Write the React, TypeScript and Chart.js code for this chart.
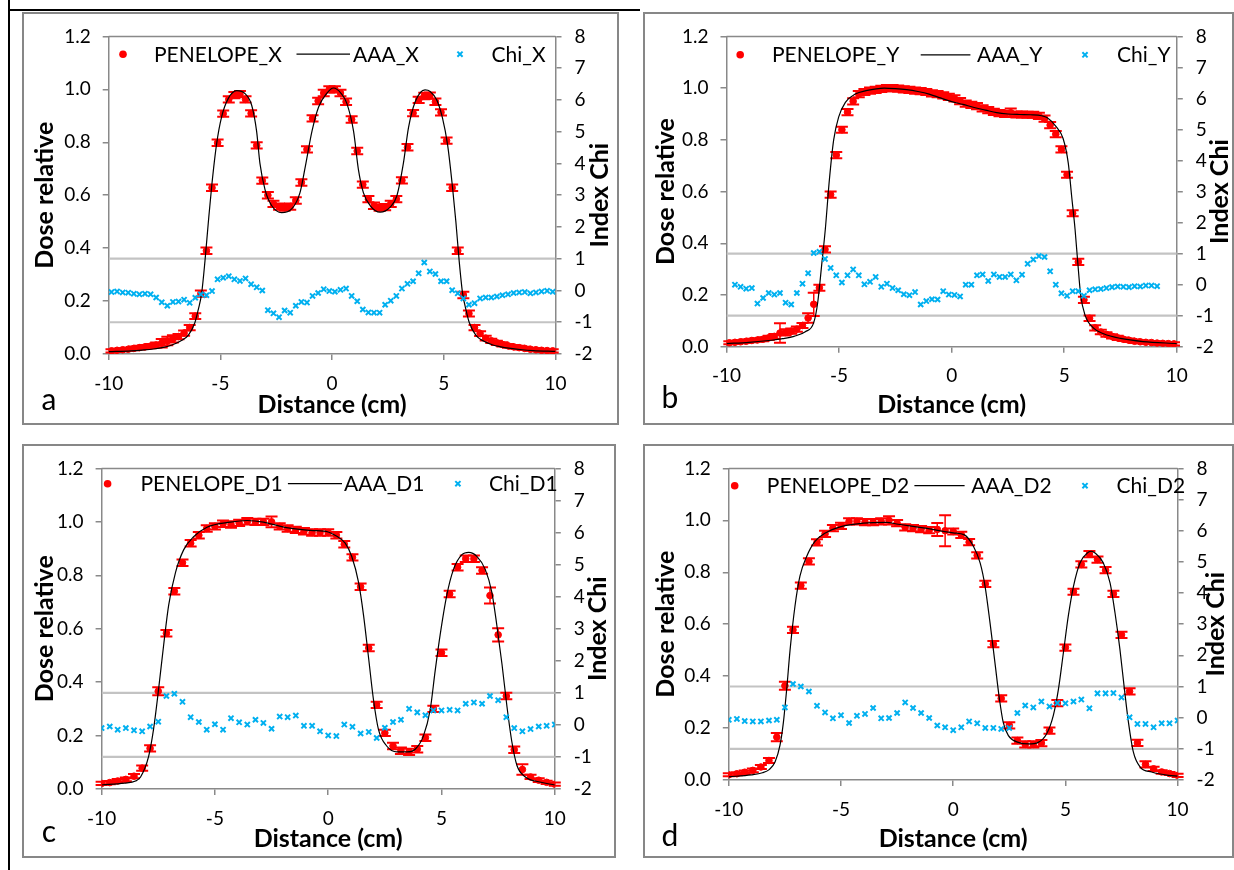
import React, { useEffect, useRef } from 'react';
import { Chart, registerables } from 'chart.js';

Chart.register(...registerables);

const FONT = 'Lato, "Open Sans", "DejaVu Sans", sans-serif';
const RED = '#FF0000';
const BLUE = '#00B0F0';
const AXIS_COLOR = '#898989';
const LIMIT_COLOR = '#C3C3C3';
const FRAME_COLOR = '#878787';

// ---------- axes ----------
const X_MIN = -10, X_MAX = 10, X_STEP = 5;
const DOSE_MIN = 0, DOSE_MAX = 1.2, DOSE_STEP = 0.2;
const CHI_MIN = -2, CHI_MAX = 8, CHI_STEP = 1;
const CHI_LIMITS = [-1, 1];
const LIMIT_X = [-10, 10];

// ---------- shared distance grids (cm) ----------
const DIST_AB = [
  -9.875, -9.625, -9.375, -9.125, -8.875, -8.625, -8.375, -8.125, -7.875, -7.625,
  -7.375, -7.125, -6.875, -6.625, -6.375, -6.125, -5.875, -5.625, -5.375, -5.125,
  -4.875, -4.625, -4.375, -4.125, -3.875, -3.625, -3.375, -3.125, -2.875, -2.625,
  -2.375, -2.125, -1.875, -1.625, -1.375, -1.125, -0.875, -0.625, -0.375, -0.125,
  0.125, 0.375, 0.625, 0.875, 1.125, 1.375, 1.625, 1.875, 2.125, 2.375,
  2.625, 2.875, 3.125, 3.375, 3.625, 3.875, 4.125, 4.375, 4.625, 4.875,
  5.125, 5.375, 5.625, 5.875, 6.125, 6.375, 6.625, 6.875, 7.125, 7.375,
  7.625, 7.875, 8.125, 8.375, 8.625, 8.875, 9.125, 9.375, 9.625, 9.875,
];
const DIST_CD = [
  -10, -9.64, -9.29, -8.93, -8.57, -8.21, -7.86, -7.5, -7.14, -6.79,
  -6.43, -6.07, -5.71, -5.36, -5, -4.64, -4.29, -3.93, -3.57, -3.21,
  -2.86, -2.5, -2.14, -1.79, -1.43, -1.07, -0.71, -0.36, 0, 0.36,
  0.71, 1.07, 1.43, 1.79, 2.14, 2.5, 2.86, 3.21, 3.57, 3.93,
  4.29, 4.64, 5, 5.36, 5.71, 6.07, 6.43, 6.79, 7.14, 7.5,
  7.86, 8.21, 8.57, 8.93, 9.29, 9.64, 10,
];

// ---------- panel a (X) ----------
const PEN_X_DOSE = [
  0.012, 0.014, 0.016, 0.018, 0.021, 0.024, 0.027, 0.030, 0.034, 0.041,
  0.049, 0.057, 0.066, 0.079, 0.100, 0.143, 0.228, 0.390, 0.628, 0.798,
  0.908, 0.962, 0.978, 0.982, 0.962, 0.909, 0.788, 0.655, 0.600, 0.567,
  0.557, 0.553, 0.557, 0.580, 0.648, 0.773, 0.890, 0.956, 0.986, 1.000,
  1.000, 0.986, 0.953, 0.886, 0.767, 0.640, 0.585, 0.560, 0.553, 0.555,
  0.567, 0.585, 0.656, 0.781, 0.910, 0.960, 0.975, 0.976, 0.953, 0.913,
  0.806, 0.628, 0.390, 0.223, 0.153, 0.100, 0.077, 0.060, 0.050, 0.042,
  0.036, 0.031, 0.027, 0.024, 0.021, 0.018, 0.016, 0.014, 0.013, 0.012,
];
const PEN_X_ERR = [
  0.006, 0.006, 0.006, 0.006, 0.007, 0.007, 0.007, 0.008, 0.009, 0.016,
  0.016, 0.014, 0.010, 0.010, 0.010, 0.011, 0.012, 0.012, 0.012, 0.012,
  0.012, 0.012, 0.012, 0.012, 0.012, 0.012, 0.012, 0.012, 0.012, 0.012,
  0.012, 0.012, 0.012, 0.012, 0.012, 0.012, 0.012, 0.012, 0.012, 0.012,
  0.012, 0.012, 0.012, 0.012, 0.012, 0.012, 0.012, 0.012, 0.012, 0.012,
  0.012, 0.012, 0.012, 0.012, 0.012, 0.012, 0.012, 0.012, 0.012, 0.012,
  0.012, 0.012, 0.012, 0.012, 0.011, 0.010, 0.009, 0.009, 0.008, 0.008,
  0.008, 0.007, 0.007, 0.007, 0.006, 0.006, 0.006, 0.006, 0.006, 0.006,
];
const AAA_X_DIST = [
  -10, -9, -8.5, -8, -7.5, -7.2, -6.8, -6.44, -6.14, -5.99,
  -5.84, -5.69, -5.54, -5.39, -5.17, -4.94, -4.65, -4.27, -3.9, -3.6,
  -3.38, -3.23, -3.0, -2.7, -2.26, -1.81, -1.44, -1.2, -0.9, -0.6,
  -0.23, 0.06, 0.4, 0.66, 0.96, 1.18, 1.4, 1.7, 2.15, 2.6,
  2.9, 3.19, 3.42, 3.72, 4.16, 4.39, 4.69, 4.94, 5.17, 5.39,
  5.54, 5.69, 5.84, 5.99, 6.14, 6.44, 6.8, 7.2, 7.5, 8,
  8.5, 9, 10,
];
const AAA_X_DOSE = [
  0.009, 0.012, 0.015, 0.019, 0.026, 0.033, 0.048, 0.070, 0.119, 0.168,
  0.229, 0.352, 0.498, 0.634, 0.794, 0.898, 0.965, 0.995, 0.984, 0.940,
  0.842, 0.720, 0.620, 0.560, 0.534, 0.548, 0.609, 0.708, 0.842, 0.934,
  0.986, 1.005, 0.985, 0.947, 0.842, 0.696, 0.610, 0.561, 0.536, 0.555,
  0.598, 0.720, 0.855, 0.953, 0.998, 0.992, 0.959, 0.892, 0.790, 0.630,
  0.500, 0.350, 0.230, 0.168, 0.119, 0.070, 0.048, 0.034, 0.028, 0.021,
  0.016, 0.013, 0.010,
];
const CHI_X = [
  -0.05, -0.03, -0.06, -0.07, -0.10, -0.12, -0.10, -0.12, -0.22, -0.37,
  -0.48, -0.36, -0.35, -0.29, -0.39, -0.23, -0.12, -0.15, -0.02, 0.35,
  0.40, 0.45, 0.35, 0.30, 0.38, 0.20, 0.10, 0.00, -0.62, -0.72,
  -0.84, -0.63, -0.70, -0.48, -0.36, -0.38, -0.17, -0.08, 0.04, -0.02,
  -0.04, 0.02, 0.06, -0.17, -0.34, -0.60, -0.69, -0.70, -0.70, -0.45,
  -0.32, -0.17, 0.06, 0.21, 0.29, 0.54, 0.88, 0.60, 0.52, 0.29,
  0.29, 0.01, -0.09, -0.25, -0.45, -0.40, -0.25, -0.22, -0.22, -0.19,
  -0.15, -0.12, -0.08, -0.06, -0.05, -0.09, -0.06, -0.03, -0.01, -0.04,
];

// ---------- panel b (Y) ----------
const PEN_Y_DOSE = [
  0.015, 0.017, 0.019, 0.021, 0.024, 0.026, 0.029, 0.034, 0.040, 0.053,
  0.055, 0.060, 0.068, 0.082, 0.111, 0.164, 0.228, 0.376, 0.588, 0.741,
  0.839, 0.907, 0.949, 0.977, 0.985, 0.990, 0.993, 0.997, 1.000, 1.000,
  0.998, 0.995, 0.993, 0.990, 0.988, 0.985, 0.980, 0.977, 0.972, 0.966,
  0.960, 0.950, 0.940, 0.935, 0.930, 0.922, 0.915, 0.908, 0.903, 0.900,
  0.905, 0.898, 0.898, 0.897, 0.897, 0.893, 0.882, 0.857, 0.822, 0.763,
  0.665, 0.516, 0.328, 0.181, 0.110, 0.073, 0.057, 0.047, 0.040, 0.034,
  0.029, 0.025, 0.021, 0.019, 0.017, 0.016, 0.014, 0.013, 0.012, 0.011,
];
const PEN_Y_ERR = [
  0.006, 0.006, 0.006, 0.007, 0.007, 0.007, 0.008, 0.008, 0.009, 0.038,
  0.012, 0.010, 0.010, 0.010, 0.018, 0.045, 0.012, 0.012, 0.012, 0.012,
  0.012, 0.012, 0.012, 0.012, 0.012, 0.012, 0.012, 0.012, 0.012, 0.012,
  0.012, 0.012, 0.012, 0.012, 0.012, 0.012, 0.012, 0.012, 0.012, 0.012,
  0.012, 0.012, 0.012, 0.012, 0.012, 0.012, 0.012, 0.012, 0.012, 0.012,
  0.016, 0.012, 0.012, 0.012, 0.012, 0.012, 0.012, 0.012, 0.012, 0.012,
  0.012, 0.012, 0.012, 0.012, 0.011, 0.010, 0.009, 0.009, 0.008, 0.008,
  0.007, 0.007, 0.007, 0.006, 0.006, 0.006, 0.006, 0.006, 0.006, 0.006,
];
const AAA_Y_DIST = [
  -10, -9, -8, -7.5, -7, -6.5, -6.13, -5.95, -5.76, -5.61,
  -5.43, -5.24, -5.02, -4.72, -4.28, -3.8, -3, -2.5, -2, -1.5,
  -1, -0.5, 0, 0.5, 1, 1.5, 2, 2.5, 3, 3.5,
  4, 4.25, 4.65, 4.95, 5.18, 5.33, 5.48, 5.6, 5.73, 5.92,
  6.29, 6.75, 7.5, 8.5, 10,
];
const AAA_Y_DOSE = [
  0.012, 0.017, 0.025, 0.031, 0.040, 0.058, 0.092, 0.170, 0.327, 0.455,
  0.646, 0.800, 0.888, 0.945, 0.977, 0.990, 1.000, 0.998, 0.994, 0.987,
  0.977, 0.962, 0.948, 0.937, 0.925, 0.915, 0.905, 0.900, 0.898, 0.897,
  0.893, 0.885, 0.850, 0.805, 0.710, 0.582, 0.455, 0.327, 0.200, 0.123,
  0.073, 0.050, 0.032, 0.020, 0.012,
];
const CHI_Y = [
  null, 0.00, -0.07, -0.13, -0.11, -0.61, -0.43, -0.27, -0.32, -0.27,
  -0.58, -0.64, -0.27, 0.03, 0.37, 1.02, 1.06, 0.83, 0.54, 0.30,
  0.07, 0.30, 0.49, 0.30, 0.01, 0.09, 0.25, -0.07, 0.03, -0.11,
  -0.18, -0.31, -0.34, -0.24, -0.64, -0.53, -0.47, -0.48, -0.21, -0.32,
  -0.33, -0.38, 0.00, 0.00, 0.30, 0.33, 0.12, 0.33, 0.25, 0.25,
  0.33, 0.14, 0.32, 0.67, 0.81, 0.92, 0.89, 0.43, 0.00, -0.28,
  -0.36, -0.21, -0.21, -0.36, -0.18, -0.15, -0.14, -0.11, -0.08, -0.06,
  -0.07, -0.08, -0.05, -0.06, -0.03, -0.03, -0.05, null, null, null,
];

// ---------- panel c (D1) ----------
const PEN_D1_DOSE = [
  0.021, 0.024, 0.030, 0.036, 0.048, 0.078, 0.152, 0.366, 0.583, 0.740,
  0.847, 0.920, 0.950, 0.975, 0.983, 0.993, 0.990, 0.996, 1.002, 1.000,
  1.000, 1.000, 0.983, 0.975, 0.970, 0.965, 0.960, 0.960, 0.960, 0.950,
  0.916, 0.867, 0.757, 0.528, 0.315, 0.210, 0.161, 0.143, 0.139, 0.149,
  0.192, 0.300, 0.510, 0.730, 0.830, 0.862, 0.862, 0.818, 0.724, 0.577,
  0.348, 0.147, 0.073, 0.045, 0.033, 0.025, 0.018,
];
const PEN_D1_ERR = [
  0.006, 0.006, 0.007, 0.007, 0.008, 0.010, 0.012, 0.015, 0.012, 0.012,
  0.012, 0.012, 0.012, 0.012, 0.012, 0.012, 0.012, 0.012, 0.012, 0.012,
  0.012, 0.020, 0.012, 0.012, 0.012, 0.012, 0.012, 0.012, 0.012, 0.012,
  0.012, 0.012, 0.012, 0.012, 0.012, 0.012, 0.012, 0.012, 0.012, 0.012,
  0.012, 0.012, 0.012, 0.012, 0.012, 0.012, 0.012, 0.012, 0.030, 0.025,
  0.012, 0.012, 0.020, 0.008, 0.007, 0.006, 0.006,
];
const AAA_D1_DIST = [
  -10, -9, -8.5, -8.28, -7.93, -7.71, -7.49, -7.26, -7.04, -6.74,
  -6.38, -5.94, -5.35, -4.32, -3.58, -2.85, -1.96, -0.78, 0, 0.3,
  0.75, 1.04, 1.34, 1.56, 1.78, 2.0, 2.22, 2.59, 3.03, 3.47,
  3.84, 4.2, 4.5, 4.72, 4.94, 5.23, 5.53, 5.9, 6.2, 6.56,
  6.93, 7.22, 7.44, 7.67, 7.89, 8.11, 8.33, 8.7, 9.29, 10,
];
const AAA_D1_DOSE = [
  0.015, 0.022, 0.030, 0.045, 0.120, 0.222, 0.370, 0.540, 0.688, 0.810,
  0.895, 0.944, 0.980, 0.999, 1.005, 0.999, 0.980, 0.968, 0.962, 0.950,
  0.920, 0.870, 0.773, 0.650, 0.492, 0.333, 0.222, 0.160, 0.139, 0.139,
  0.149, 0.198, 0.296, 0.442, 0.577, 0.724, 0.822, 0.877, 0.886, 0.871,
  0.822, 0.737, 0.614, 0.467, 0.308, 0.174, 0.088, 0.045, 0.027, 0.015,
];
const CHI_D1 = [
  -0.10, -0.05, -0.15, -0.10, -0.17, -0.20, -0.05, 0.10, 0.90, 0.97,
  0.72, 0.24, 0.09, -0.15, 0.02, -0.15, 0.21, 0.08, 0.01, 0.16,
  0.06, -0.12, 0.26, 0.24, 0.29, -0.03, -0.03, -0.20, -0.33, -0.35,
  0.01, -0.06, -0.27, -0.22, -0.41, -0.09, 0.09, 0.16, 0.50, 0.39,
  0.30, 0.45, 0.45, 0.47, 0.45, 0.66, 0.70, 0.66, 0.90, 0.77,
  0.24, -0.10, -0.20, -0.13, -0.05, -0.03, 0.01,
];

// ---------- panel d (D2) ----------
const PEN_D2_DOSE = [
  0.020, 0.024, 0.030, 0.037, 0.050, 0.075, 0.165, 0.363, 0.578, 0.749,
  0.842, 0.915, 0.948, 0.970, 0.979, 0.996, 0.996, 0.993, 0.993, 0.996,
  1.000, 0.989, 0.973, 0.970, 0.966, 0.962, 0.965, 0.960, 0.957, 0.944,
  0.916, 0.865, 0.755, 0.523, 0.314, 0.210, 0.152, 0.137, 0.137, 0.142,
  0.190, 0.296, 0.510, 0.725, 0.830, 0.870, 0.849, 0.808, 0.717, 0.559,
  0.341, 0.143, 0.060, 0.043, 0.031, 0.025, 0.018,
];
const PEN_D2_ERR = [
  0.006, 0.006, 0.007, 0.007, 0.008, 0.010, 0.016, 0.015, 0.012, 0.012,
  0.012, 0.012, 0.012, 0.012, 0.012, 0.012, 0.012, 0.012, 0.012, 0.012,
  0.016, 0.012, 0.012, 0.012, 0.012, 0.012, 0.025, 0.060, 0.012, 0.012,
  0.012, 0.012, 0.012, 0.012, 0.012, 0.012, 0.012, 0.012, 0.012, 0.012,
  0.012, 0.012, 0.012, 0.012, 0.012, 0.012, 0.012, 0.012, 0.012, 0.012,
  0.012, 0.012, 0.012, 0.008, 0.007, 0.006, 0.006,
];
const AAA_D2_DIST = [
  -10, -9, -8.5, -8.2, -7.94, -7.72, -7.57, -7.42, -7.27, -7.05,
  -6.83, -6.53, -6.16, -5.72, -5, -4, -3, -2.45, -1.26, 0,
  0.5, 0.9, 1.2, 1.42, 1.64, 1.86, 2.06, 2.23, 2.46, 2.9,
  3.35, 3.79, 4.16, 4.46, 4.69, 4.91, 5.13, 5.36, 5.65, 6.02,
  6.15, 6.32, 6.69, 6.99, 7.21, 7.43, 7.63, 7.81, 8.03, 8.33,
  8.84, 9.59, 10,
];
const AAA_D2_DOSE = [
  0.012, 0.020, 0.028, 0.040, 0.069, 0.133, 0.220, 0.350, 0.500, 0.670,
  0.785, 0.861, 0.919, 0.950, 0.976, 0.989, 0.992, 0.985, 0.970, 0.952,
  0.944, 0.900, 0.836, 0.746, 0.606, 0.452, 0.312, 0.222, 0.171, 0.145,
  0.139, 0.145, 0.177, 0.248, 0.350, 0.490, 0.632, 0.746, 0.836, 0.877,
  0.881, 0.874, 0.836, 0.759, 0.644, 0.503, 0.350, 0.222, 0.107, 0.050,
  0.031, 0.018, 0.015,
];
const CHI_D2 = [
  -0.07, -0.04, -0.11, -0.12, -0.12, -0.09, -0.07, 0.33, 1.08, 1.00,
  0.84, 0.38, 0.17, -0.02, 0.08, -0.17, 0.06, 0.12, 0.31, -0.02,
  -0.01, 0.15, 0.49, 0.31, 0.15, -0.01, -0.25, -0.31, -0.40, -0.31,
  -0.12, -0.18, -0.33, -0.33, -0.36, -0.33, 0.15, 0.39, 0.33, 0.52,
  0.36, 0.47, 0.46, 0.52, 0.58, 0.30, 0.78, 0.78, 0.79, 0.65,
  0.01, -0.20, -0.20, -0.31, -0.18, -0.18, -0.09,
];

// ---------- layout (page pixels) ----------
const PANELS = [
  {
    key: 'a', letter: 'a', letterAt: [49, 410],
    frame: { l: 22, t: 12, r: 619, b: 425 },
    plot: { l: 108.7, t: 28, r: 555.5, b: 354 },
    names: ['PENELOPE_X', 'AAA_X', 'Chi_X'],
    penX: DIST_AB, penY: PEN_X_DOSE, penErr: PEN_X_ERR,
    lineX: AAA_X_DIST, lineY: AAA_X_DOSE,
    chiX: DIST_AB, chiY: CHI_X,
    legend: { dot: 14.3, t1: 45.3, l0: 187.8, l1: 241.3, t2: 244.3, cross: 351.3, t3: 382.8, dy: 17.8 },
    titleOff: { left: 64.7, bottom: 50.2, right: 43.5 },
  },
  {
    key: 'b', letter: 'b', letterAt: [670, 408],
    frame: { l: 643, t: 12, r: 1234, b: 425 },
    plot: { l: 726.5, t: 33.3, r: 1176.8, b: 346.7 },
    names: ['PENELOPE_Y', 'AAA_Y', 'Chi_Y'],
    penX: DIST_AB, penY: PEN_Y_DOSE, penErr: PEN_Y_ERR,
    lineX: AAA_Y_DIST, lineY: AAA_Y_DOSE,
    chiX: DIST_AB, chiY: CHI_Y,
    legend: { dot: 13.7, t1: 45.5, l0: 194.2, l1: 243.9, t2: 250.5, cross: 358.5, t3: 390.5, dy: 18.4 },
    titleOff: { left: 61.5, bottom: 57.5, right: 42.2 },
  },
  {
    key: 'c', letter: 'c', letterAt: [49, 842],
    frame: { l: 22, t: 444, r: 616, b: 858 },
    plot: { l: 101.6, t: 462, r: 554.8, b: 789 },
    names: ['PENELOPE_D1', 'AAA_D1', 'Chi_D1'],
    penX: DIST_CD, penY: PEN_D1_DOSE, penErr: PEN_D1_ERR,
    lineX: AAA_D1_DIST, lineY: AAA_D1_DOSE,
    chiX: DIST_CD, chiY: CHI_D1,
    legend: { dot: 6, t1: 38.8, l0: 186.3, l1: 240.4, t2: 242.4, cross: 356.3, t3: 387.4, dy: 15.3 },
    titleOff: { left: 57.3, bottom: 48.5, right: 42.3 },
  },
  {
    key: 'd', letter: 'd', letterAt: [670, 846],
    frame: { l: 643, t: 444, r: 1234, b: 858 },
    plot: { l: 728.8, t: 466.7, r: 1177.6, b: 780 },
    names: ['PENELOPE_D2', 'AAA_D2', 'Chi_D2'],
    penX: DIST_CD, penY: PEN_D2_DOSE, penErr: PEN_D2_ERR,
    lineX: AAA_D2_DIST, lineY: AAA_D2_DOSE,
    chiX: DIST_CD, chiY: CHI_D2,
    legend: { dot: 5.9, t1: 38, l0: 185.6, l1: 235.8, t2: 242.4, cross: 356.2, t3: 387.7, dy: 17.3 },
    titleOff: { left: 63.8, bottom: 57.5, right: 37.5 },
  },
];

const TICK_FONT = { family: FONT, size: 19 };
const LEGEND_SIZE = 21;
const TITLE_SIZE = 25;
const LETTER_SIZE = 30;
const CAP = 6;
const PEN_INDEX = 2;

function makeDeco(cfg: any) {
  return {
    id: 'deco_' + cfg.key,
    beforeDatasetsDraw(chart: any) {
      const { ctx, chartArea: a } = chart;
      ctx.save();
      ctx.strokeStyle = AXIS_COLOR;
      ctx.lineWidth = 1.5;
      ctx.beginPath();
      ctx.moveTo(a.left, a.top);
      ctx.lineTo(a.right, a.top);
      ctx.stroke();
      ctx.restore();
    },
    afterDatasetDraw(chart: any, args: any) {
      if (args.index !== PEN_INDEX) return;
      const { ctx } = chart;
      const ys = chart.scales.y;
      ctx.save();
      ctx.strokeStyle = RED;
      args.meta.data.forEach((el: any, i: number) => {
        const v = cfg.penY[i];
        const e = cfg.penErr[i] ?? 0;
        if (v == null) return;
        const x = el.x;
        const yt = ys.getPixelForValue(v + e);
        const yb = ys.getPixelForValue(Math.max(0, v - e));
        ctx.lineWidth = 1.5;
        ctx.beginPath();
        ctx.moveTo(x, yt);
        ctx.lineTo(x, yb);
        ctx.stroke();
        ctx.lineWidth = 2;
        ctx.beginPath();
        ctx.moveTo(x - CAP, yt);
        ctx.lineTo(x + CAP, yt);
        ctx.moveTo(x - CAP, yb);
        ctx.lineTo(x + CAP, yb);
        ctx.stroke();
      });
      ctx.restore();
    },
    afterDraw(chart: any) {
      const { ctx, chartArea: a } = chart;
      const L = cfg.legend;
      const y = a.top + L.dy;
      ctx.save();
      // legend
      ctx.font = `${LEGEND_SIZE}px ${FONT}`;
      ctx.textAlign = 'left';
      ctx.textBaseline = 'alphabetic';
      const base = y + LEGEND_SIZE * 0.36;
      ctx.fillStyle = RED;
      ctx.beginPath();
      ctx.arc(a.left + L.dot, y, 3.8, 0, Math.PI * 2);
      ctx.fill();
      ctx.fillStyle = '#000';
      ctx.fillText(cfg.names[0], a.left + L.t1, base);
      ctx.strokeStyle = '#000';
      ctx.lineWidth = 1.2;
      ctx.beginPath();
      ctx.moveTo(a.left + L.l0, y);
      ctx.lineTo(a.left + L.l1, y);
      ctx.stroke();
      ctx.fillText(cfg.names[1], a.left + L.t2, base);
      ctx.strokeStyle = BLUE;
      ctx.lineWidth = 2;
      const cx = a.left + L.cross, r = 2.6;
      ctx.beginPath();
      ctx.moveTo(cx - r, y - r);
      ctx.lineTo(cx + r, y + r);
      ctx.moveTo(cx - r, y + r);
      ctx.lineTo(cx + r, y - r);
      ctx.stroke();
      ctx.fillStyle = '#000';
      ctx.fillText(cfg.names[2], a.left + L.t3, base);

      // axis titles
      const T = cfg.titleOff;
      ctx.font = `bold ${TITLE_SIZE}px ${FONT}`;
      ctx.textAlign = 'center';
      const capHalf = TITLE_SIZE * 0.36;
      ctx.fillText('Distance (cm)', (a.left + a.right) / 2, a.bottom + T.bottom + capHalf);
      const midY = (a.top + a.bottom) / 2;
      const drawVert = (text: string, cxv: number) => {
        ctx.save();
        ctx.translate(cxv, midY);
        ctx.rotate(-Math.PI / 2);
        ctx.fillText(text, 0, capHalf);
        ctx.restore();
      };
      drawVert('Dose relative', a.left - T.left);
      drawVert('Index Chi', a.right + T.right);

      // panel letter
      ctx.font = `${LETTER_SIZE}px ${FONT}`;
      ctx.textAlign = 'center';
      ctx.fillText(cfg.letter, cfg.letterAt[0] - cfg.frame.l, cfg.letterAt[1] - cfg.frame.t);
      ctx.restore();
    },
  };
}

function Panel({ cfg }: { cfg: any }) {
  const ref = useRef<HTMLCanvasElement>(null);
  const { frame, plot } = cfg;
  const W = frame.r - frame.l;
  const H = frame.b - frame.t;

  useEffect(() => {
    const canvas = ref.current;
    if (!canvas) return;
    const penPts = cfg.penX.map((x: number, i: number) => ({ x, y: cfg.penY[i] }));
    const linePts = cfg.lineX.map((x: number, i: number) => ({ x, y: cfg.lineY[i] }));
    const chiPts = cfg.chiX.map((x: number, i: number) => ({ x, y: cfg.chiY[i] }));
    const limHi = LIMIT_X.map((x) => ({ x, y: CHI_LIMITS[1] }));
    const limLo = LIMIT_X.map((x) => ({ x, y: CHI_LIMITS[0] }));

    const gridCommon = {
      drawOnChartArea: false,
      drawTicks: true,
      tickLength: 6,
      color: AXIS_COLOR,
      lineWidth: 1.5,
    };
    const borderCommon = { display: true, color: AXIS_COLOR, width: 1.5 };

    const chart = new Chart(canvas, {
      type: 'scatter',
      data: {
        datasets: [
          {
            label: cfg.names[2],
            data: chiPts,
            yAxisID: 'y1',
            pointStyle: 'crossRot',
            pointRadius: 3.6,
            pointBorderWidth: 2,
            pointBorderColor: BLUE,
            pointBackgroundColor: BLUE,
            borderColor: BLUE,
            backgroundColor: BLUE,
            order: 0,
          },
          {
            label: cfg.names[1],
            data: linePts,
            yAxisID: 'y',
            showLine: true,
            borderColor: '#000',
            borderWidth: 1.2,
            pointRadius: 0,
            cubicInterpolationMode: 'monotone',
            order: 1,
          },
          {
            label: cfg.names[0],
            data: penPts,
            yAxisID: 'y',
            pointStyle: 'circle',
            pointRadius: 3.3,
            pointBorderWidth: 1,
            pointBorderColor: RED,
            pointBackgroundColor: RED,
            borderColor: RED,
            backgroundColor: RED,
            order: 2,
          },
          {
            label: 'limit+',
            data: limHi,
            yAxisID: 'y1',
            showLine: true,
            borderColor: LIMIT_COLOR,
            borderWidth: 2.2,
            pointRadius: 0,
            order: 3,
          },
          {
            label: 'limit-',
            data: limLo,
            yAxisID: 'y1',
            showLine: true,
            borderColor: LIMIT_COLOR,
            borderWidth: 2.2,
            pointRadius: 0,
            order: 4,
          },
        ],
      },
      options: {
        animation: false,
        responsive: false,
        devicePixelRatio: 1,
        events: [],
        layout: { padding: { top: plot.t - frame.t, left: 0, right: 0, bottom: 0 } },
        plugins: {
          legend: { display: false },
          tooltip: { enabled: false },
          title: { display: false },
        },
        scales: {
          x: {
            type: 'linear',
            position: 'bottom',
            min: X_MIN,
            max: X_MAX,
            ticks: { stepSize: X_STEP, font: TICK_FONT, color: '#000', padding: 12 },
            grid: gridCommon,
            border: borderCommon,
            afterFit: (s: any) => { s.height = frame.b - plot.b; },
          },
          y: {
            type: 'linear',
            position: 'left',
            min: DOSE_MIN,
            max: DOSE_MAX,
            ticks: {
              stepSize: DOSE_STEP,
              font: TICK_FONT,
              color: '#000',
              padding: 12,
              callback: (v: any) => Number(v).toFixed(1),
            },
            grid: gridCommon,
            border: borderCommon,
            afterFit: (s: any) => { s.width = plot.l - frame.l; },
          },
          y1: {
            type: 'linear',
            position: 'right',
            min: CHI_MIN,
            max: CHI_MAX,
            ticks: { stepSize: CHI_STEP, font: TICK_FONT, color: '#000', padding: 13 },
            grid: gridCommon,
            border: borderCommon,
            afterFit: (s: any) => { s.width = frame.r - plot.r; },
          },
        },
      },
      plugins: [makeDeco(cfg)],
    } as any);
    return () => chart.destroy();
  }, [cfg]);

  return (
    <canvas
      ref={ref}
      width={W}
      height={H}
      style={{ position: 'absolute', left: frame.l, top: frame.t, width: W, height: H }}
    />
  );
}

export default function App() {
  return (
    <div
      style={{
        position: 'absolute',
        left: 0,
        top: 0,
        width: 1234,
        height: 870,
        background: '#fff',
        overflow: 'hidden',
      }}
    >
      <div style={{ position: 'absolute', left: 8, top: 0, width: 2, height: 870, background: '#000' }} />
      <div style={{ position: 'absolute', left: 8, top: 9, width: 632, height: 2, background: '#000' }} />
      {PANELS.map((p) => (
        <div
          key={'f' + p.key}
          style={{
            position: 'absolute',
            left: p.frame.l,
            top: p.frame.t,
            width: p.frame.r - p.frame.l,
            height: p.frame.b - p.frame.t,
            border: `2px solid ${FRAME_COLOR}`,
            boxSizing: 'border-box',
          }}
        />
      ))}
      {PANELS.map((p) => (
        <Panel key={p.key} cfg={p} />
      ))}
    </div>
  );
}
